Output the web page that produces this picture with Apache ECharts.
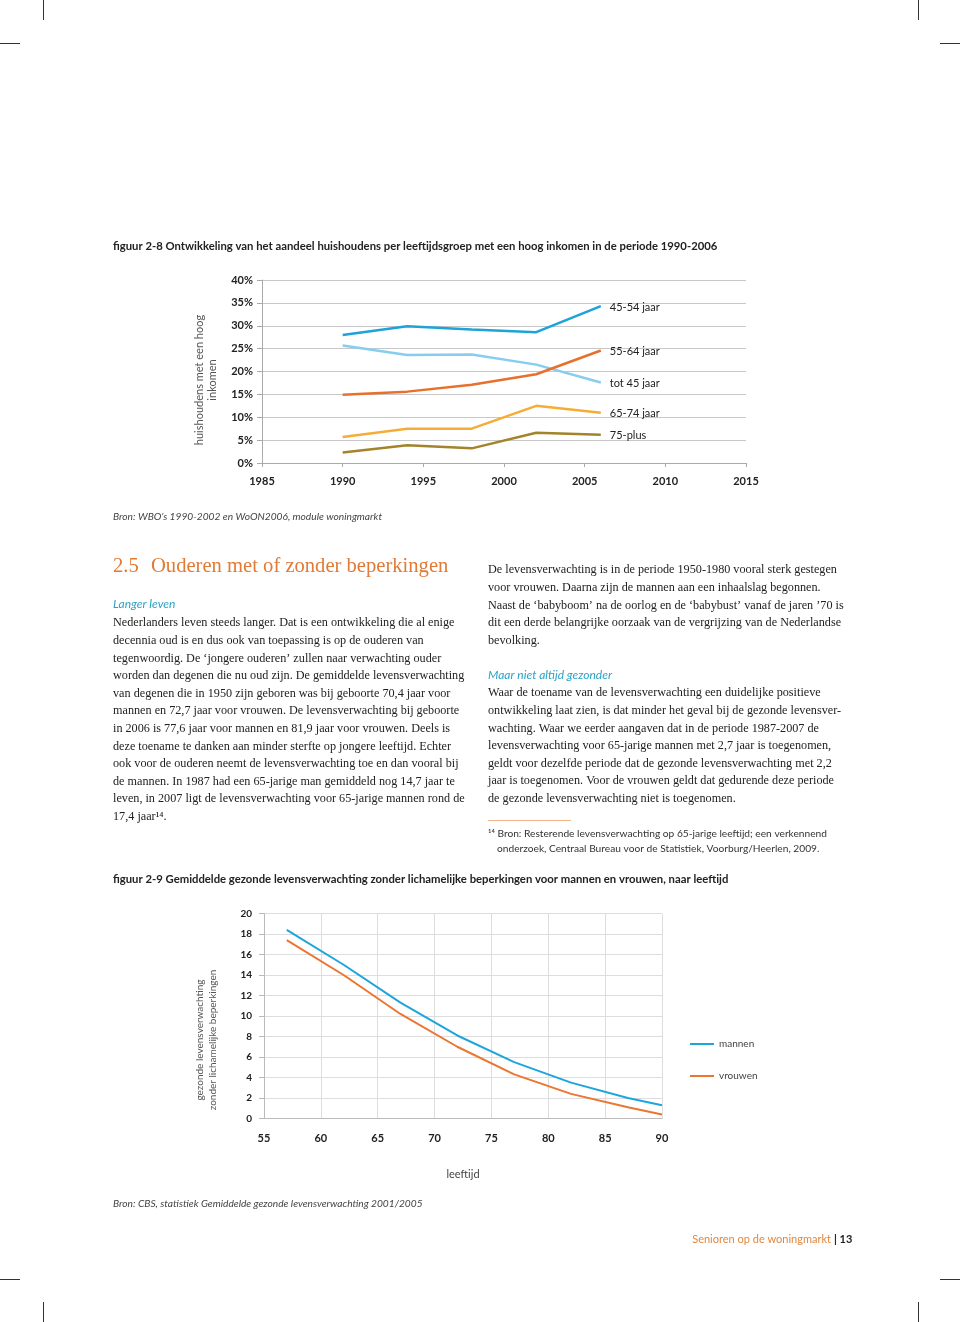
<!DOCTYPE html>
<html><head><meta charset="utf-8">
<script src="https://cdn.jsdelivr.net/npm/echarts@6/dist/echarts.min.js"></script>
<style>html,body{margin:0;padding:0;background:#fff}#c{width:960px;height:1322px}</style>
</head><body><div id="c"></div>
<script>
// ---- Figure 2-8 data ----
const years = [1990, 1994, 1998, 2002, 2006];
const s4554 = [28.0, 29.9, 29.2, 28.6, 34.3];
const sTot45 = [25.7, 23.6, 23.7, 21.5, 17.6];
const s5564 = [14.9, 15.6, 17.1, 19.4, 24.6];
const s6574 = [5.7, 7.5, 7.5, 12.5, 11.0];
const s75plus = [2.3, 3.9, 3.2, 6.6, 6.2];
const names1 = ['45-54 jaar', 'tot 45 jaar', '55-64 jaar', '65-74 jaar', '75-plus'];
// ---- Figure 2-9 data ----
const ages = [57, 62, 67, 72, 77, 82, 87, 90];
const mannen = [18.4, 15.0, 11.3, 8.1, 5.5, 3.5, 2.0, 1.3];
const vrouwen = [17.4, 14.0, 10.2, 7.0, 4.3, 2.4, 1.1, 0.4];

const SANS = 'Lato, "Open Sans", sans-serif';
const SERIF = '"Liberation Serif", "DejaVu Serif", serif';
const pair = (xs, ys) => xs.map((x, i) => [x, ys[i]]);

const chart = echarts.init(document.getElementById('c'), null, {renderer: 'canvas'});

function line1(name, data, color) {
  return {
    name, type: 'line', xAxisIndex: 0, yAxisIndex: 0, data: pair(years, data),
    symbol: 'none', lineStyle: {color, width: 2.5}, itemStyle: {color},
    endLabel: {show: true, formatter: name, color: '#222', fontFamily: SANS, fontSize: 11, offset: [1, 1]},
    silent: true
  };
}
function line2(name, data, color) {
  return {
    name, type: 'line', xAxisIndex: 1, yAxisIndex: 1, data: pair(ages, data),
    symbol: 'none', lineStyle: {color, width: 2}, itemStyle: {color}, silent: true
  };
}

const leftPara = [
'Nederlanders leven steeds langer. Dat is een ontwikkeling die al enige',
'decennia oud is en dus ook van toepassing is op de ouderen van',
'tegenwoordig. De ‘jongere ouderen’ zullen naar verwachting ouder',
'worden dan degenen die nu oud zijn. De gemiddelde levensverwachting',
'van degenen die in 1950 zijn geboren was bij geboorte 70,4 jaar voor',
'mannen en 72,7 jaar voor vrouwen. De levensverwachting bij geboorte',
'in 2006 is 77,6 jaar voor mannen en 81,9 jaar voor vrouwen. Deels is',
'deze toename te danken aan minder sterfte op jongere leeftijd. Echter',
'ook voor de ouderen neemt de levensverwachting toe en dan vooral bij',
'de mannen. In 1987 had een 65-jarige man gemiddeld nog 14,7 jaar te',
'leven, in 2007 ligt de levensverwachting voor 65-jarige mannen rond de',
'17,4 jaar¹⁴.'
].join('\n');
const rightPara1 = [
'De levensverwachting is in de periode 1950-1980 vooral sterk gestegen',
'voor vrouwen. Daarna zijn de mannen aan een inhaalslag begonnen.',
'Naast de ‘babyboom’ na de oorlog en de ‘babybust’ vanaf de jaren ’70 is',
'dit een derde belangrijke oorzaak van de vergrijzing van de Nederlandse',
'bevolking.'
].join('\n');
const rightPara2 = [
'Waar de toename van de levensverwachting een duidelijke positieve',
'ontwikkeling laat zien, is dat minder het geval bij de gezonde levensver-',
'wachting. Waar we eerder aangaven dat in de periode 1987-2007 de',
'levensverwachting voor 65-jarige mannen met 2,7 jaar is toegenomen,',
'geldt voor dezelfde periode dat de gezonde levensverwachting met 2,2',
'jaar is toegenomen. Voor de vrouwen geldt dat gedurende deze periode',
'de gezonde levensverwachting niet is toegenomen.'
].join('\n');

function T(x, y, text, o) {
  return {type: 'text', x, y, silent: true, rotation: (o && o.rotation) || 0,
    style: Object.assign({text, fill: '#222', fontFamily: SANS, fontSize: 11, align: 'left', verticalAlign: 'middle'}, o && o.style)};
}
function L(x1, y1, x2, y2, color, w) {
  return {type: 'line', silent: true, shape: {x1, y1, x2, y2}, style: {stroke: color || '#333', lineWidth: w || 1}};
}
const BODY = {fill: '#222', fontFamily: SERIF, fontSize: 12.2, lineHeight: 17.6, verticalAlign: 'top'};

const graphics = [
  // crop marks
  L(43.5, 0, 43.5, 20), L(918.5, 0, 918.5, 20), L(0, 43.5, 20, 43.5), L(940, 43.5, 960, 43.5),
  L(0, 1279.5, 20, 1279.5), L(940, 1279.5, 960, 1279.5), L(43.5, 1302, 43.5, 1322), L(918.5, 1302, 918.5, 1322),
  // figure 2-8 title
  T(113, 246, 'figuur 2-8 Ontwikkeling van het aandeel huishoudens per leeftijdsgroep met een hoog inkomen in de periode 1990-2006', {style: {fontWeight: 'bold', fontSize: 11.3}}),
  T(206, 380, 'huishoudens met een hoog\ninkomen', {rotation: Math.PI / 2, style: {align: 'center', fill: '#555', fontSize: 11, lineHeight: 13}}),
  T(113, 517, 'Bron: WBO’s 1990-2002 en WoON2006, module woningmarkt', {style: {fontStyle: 'italic', fill: '#444', fontSize: 10.2}}),
  // section heading
  T(113, 567, '2.5', {style: {fontFamily: SERIF, fill: '#e07a36', fontSize: 20.6}}),
  T(151, 567, 'Ouderen met of zonder beperkingen', {style: {fontFamily: SERIF, fill: '#e07a36', fontSize: 20.6}}),
  T(113, 604, 'Langer leven', {style: {fontStyle: 'italic', fill: '#2aa2c6', fontSize: 12}}),
  {type: 'text', x: 113, y: 614.5, silent: true, style: Object.assign({text: leftPara}, BODY)},
  {type: 'text', x: 488, y: 561.5, silent: true, style: Object.assign({text: rightPara1}, BODY)},
  T(488, 675, 'Maar niet altijd gezonder', {style: {fontStyle: 'italic', fill: '#2aa2c6', fontSize: 12}}),
  {type: 'text', x: 488, y: 684.5, silent: true, style: Object.assign({text: rightPara2}, BODY)},
  L(488, 820.5, 571, 820.5, '#f0b48a', 1),
  T(488, 834, '¹⁴ Bron: Resterende levensverwachting op 65-jarige leeftijd; een verkennend', {style: {fontSize: 10.2, fill: '#333'}}),
  T(497, 849, 'onderzoek, Centraal Bureau voor de Statistiek, Voorburg/Heerlen, 2009.', {style: {fontSize: 10.2, fill: '#333'}}),
  // figure 2-9
  T(113, 879, 'figuur 2-9 Gemiddelde gezonde levensverwachting zonder lichamelijke beperkingen voor mannen en vrouwen, naar leeftijd', {style: {fontWeight: 'bold', fontSize: 11.3}}),
  T(206, 1040, 'gezonde levensverwachting\nzonder lichamelijke beperkingen', {rotation: Math.PI / 2, style: {align: 'center', fill: '#555', fontSize: 10, lineHeight: 13}}),
  T(113, 1204, 'Bron: CBS, statistiek Gemiddelde gezonde levensverwachting 2001/2005', {style: {fontStyle: 'italic', fill: '#444', fontSize: 10.2}}),
  // footer
  T(831, 1239, 'Senioren op de woningmarkt', {style: {align: 'right', fill: '#e0873f', fontSize: 11}}),
  T(834, 1239, '| 13', {style: {fill: '#222', fontSize: 11, fontWeight: 'bold'}})
];

const axisLabelStyle = {color: '#222', fontFamily: SANS, fontSize: 11, fontWeight: 'bold'};

chart.setOption({
  animation: false,
  backgroundColor: '#fff',
  textStyle: {fontFamily: SANS},
  grid: [
    {left: 262, right: 214, top: 280, height: 183, containLabel: false},
    {left: 264, width: 398, top: 913.5, height: 205, containLabel: false}
  ],
  xAxis: [
    {type: 'value', gridIndex: 0, min: 1985, max: 2015, interval: 5,
     axisLine: {show: true, lineStyle: {color: '#aaa'}}, axisTick: {show: true, length: 4, lineStyle: {color: '#aaa'}},
     splitLine: {show: false}, axisLabel: Object.assign({margin: 13, formatter: v => String(v)}, axisLabelStyle)},
    {type: 'value', gridIndex: 1, min: 55, max: 90, interval: 5,
     name: 'leeftijd', nameLocation: 'middle', nameGap: 50, nameTextStyle: {color: '#444', fontSize: 11, fontFamily: SANS},
     axisLine: {show: true, lineStyle: {color: '#bbb'}}, axisTick: {show: false},
     splitLine: {show: true, lineStyle: {color: '#ddd'}}, axisLabel: Object.assign({margin: 14}, axisLabelStyle)}
  ],
  yAxis: [
    {type: 'value', gridIndex: 0, min: 0, max: 40, interval: 5,
     axisLine: {show: true, lineStyle: {color: '#aaa'}}, axisTick: {show: true, length: 5, lineStyle: {color: '#aaa'}},
     splitLine: {show: true, lineStyle: {color: '#c8c8c8'}}, axisLabel: Object.assign({margin: 9, formatter: '{value}%'}, axisLabelStyle)},
    {type: 'value', gridIndex: 1, min: 0, max: 20, interval: 2,
     axisLine: {show: true, lineStyle: {color: '#bbb'}}, axisTick: {show: true, length: 5, lineStyle: {color: '#bbb'}},
     splitLine: {show: true, lineStyle: {color: '#ddd'}}, axisLabel: Object.assign({margin: 12}, axisLabelStyle, {fontSize: 10})}
  ],
  legend: {
    orient: 'vertical', left: 685, top: 1034, itemGap: 22, itemWidth: 24, itemHeight: 10,
    icon: 'path://M0,4 L24,4 L24,6 L0,6 Z',
    data: ['mannen', 'vrouwen'], textStyle: {color: '#444', fontSize: 10, fontFamily: SANS}, selectedMode: false
  },
  series: [
    line1(names1[0], s4554, '#1ea3d8'),
    line1(names1[1], sTot45, '#86cdef'),
    line1(names1[2], s5564, '#e8702c'),
    line1(names1[3], s6574, '#f5ad35'),
    line1(names1[4], s75plus, '#a3842a'),
    line2('mannen', mannen, '#1ea5dc'),
    line2('vrouwen', vrouwen, '#ec7530')
  ],
  graphic: graphics
});
</script></body></html>
